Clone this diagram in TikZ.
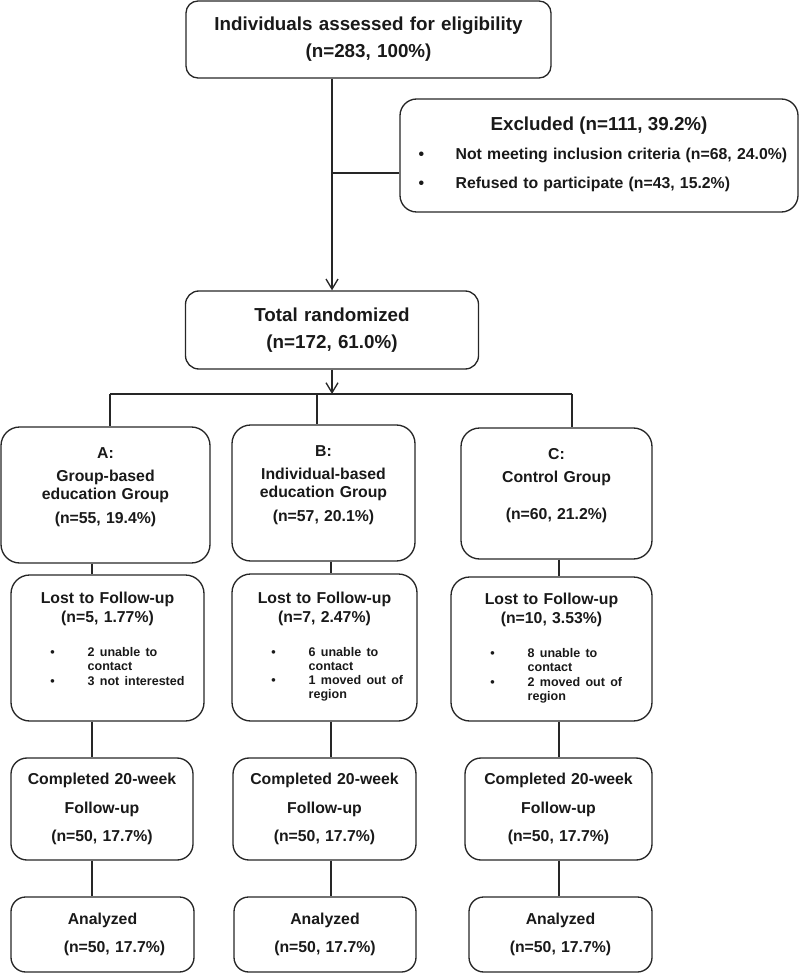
\documentclass[tikz,border=0pt]{standalone}
\usepackage{fontspec}
\setmainfont{Liberation Sans}
\usetikzlibrary{arrows.meta}

\begin{document}
\begin{tikzpicture}[x=0.75pt,y=-0.75pt,line width=1pt,color=black!85,
    box/.style={draw,align=center,inner xsep=0pt,inner ysep=0pt,text=black!90},
    bigtxt/.style={font=\fontsize{14.1}{20.25}\selectfont\bfseries},
    midtxt/.style={font=\fontsize{11.85}{13.5}\selectfont\bfseries},
    grp/.style={box,midtxt,rounded corners=14pt,minimum height=102pt},
    lost/.style={box,midtxt,rounded corners=14pt},
    comp/.style={box,rounded corners=12pt,minimum height=76.5pt,font=\fontsize{11.85}{21.4}\selectfont\bfseries},
    ana/.style={box,rounded corners=11pt,minimum height=56.25pt,font=\fontsize{11.85}{21}\selectfont\bfseries},
    arr/.style={-{Straight Barb[length=7.5pt,width=9pt]}}]
    \useasboundingbox (0,0) rectangle (800,973);

    % enrolment
    \node[box,bigtxt,rounded corners=9pt,text width=273.75pt,minimum height=57.75pt] (elig) at (368.5,39.5)
        {Individuals assessed for eligibility\\(n=283, 100\%)};
    \node[box,midtxt,rounded corners=12.5pt,text width=298.5pt,minimum height=84.75pt] (excl) at (599,155.5)
        {{\fontsize{14.1}{16}\selectfont Excluded (n=111, 39.2\%)}\\[8.25pt]
        \begin{tabular}[t]{@{\hspace{13.5pt}}p{27.75pt}@{}p{256.25pt}@{}}
            \textbullet & Not meeting inclusion criteria (n=68, 24.0\%)\\[7.8pt]
            \textbullet & Refused to participate (n=43, 15.2\%)
        \end{tabular}};
    \node[box,bigtxt,rounded corners=10pt,text width=219.75pt,minimum height=58.5pt] (rand) at (332,330)
        {Total randomized\\(n=172, 61.0\%)};

    % allocation
    \node[grp,text width=156.75pt] (grpA) at (105.5,495)
        {A:\\[3.75pt]Group-based\\education Group\\[4.5pt](n=55, 19.4\%)\par\vspace*{11.25pt}};
    \node[grp,text width=137.25pt] (grpB) at (323.5,493)
        {B:\\[3.75pt]Individual-based\\education Group\\[4.5pt](n=57, 20.1\%)\par\vspace*{11.25pt}};
    \node[grp,text width=143.25pt,minimum height=98.25pt] (grpC) at (556.5,493.5)
        {C:\\[3.75pt]Control Group\\[14.25pt](n=60, 21.2\%)\par\vspace*{11.25pt}};

    % follow-up
    \node[lost,text width=144.75pt,minimum height=109.5pt] (lostA) at (107.5,648)
        {Lost to Follow-up\\[0.75pt](n=5, 1.77\%)\hspace*{24pt}\\[12pt]
        {\fontsize{9.4}{10.7}\selectfont
        \begin{tabular}[t]{@{\hspace{29pt}}p{28pt}@{}p{86.75pt}@{}}
            \textbullet & 2 unable to\newline contact\\
            \textbullet & 3 not interested
        \end{tabular}}\par\vspace*{10.7pt}};
    \node[lost,text width=138.75pt,minimum height=110.25pt] (lostB) at (324.5,647.5)
        {Lost to Follow-up\\[0.75pt](n=7, 2.47\%)\\[12pt]
        {\fontsize{9.4}{10.7}\selectfont
        \begin{tabular}[t]{@{\hspace{29pt}}p{28pt}@{}p{80.75pt}@{}}
            \textbullet & 6 unable to\newline contact\\
            \textbullet & 1 moved out of\newline region
        \end{tabular}}};
    \node[lost,text width=150.75pt,minimum height=108pt] (lostC) at (551.5,649)
        {Lost to Follow-up\\[0.75pt](n=10, 3.53\%)\\[12pt]
        {\fontsize{9.4}{10.7}\selectfont
        \begin{tabular}[t]{@{\hspace{29pt}}p{28pt}@{}p{92.75pt}@{}}
            \textbullet & 8 unable to\newline contact\\
            \textbullet & 2 moved out of\newline region
        \end{tabular}}};

    \node[comp,text width=136.5pt] (compA) at (102,809) {Completed 20-week\\Follow-up\\(n=50, 17.7\%)};
    \node[comp,text width=137.25pt] (compB) at (324.5,809) {Completed 20-week\\Follow-up\\(n=50, 17.7\%)};
    \node[comp,text width=140.25pt] (compC) at (558.5,809) {Completed 20-week\\Follow-up\\(n=50, 17.7\%)};

    % analysis
    \node[ana,text width=137.25pt] (anaA) at (102.5,934.5) {Analyzed\\\hspace*{18pt}(n=50, 17.7\%)};
    \node[ana,text width=136.5pt] (anaB) at (325,934.5) {Analyzed\\(n=50, 17.7\%)};
    \node[ana,text width=137.25pt] (anaC) at (560.5,934.5) {Analyzed\\(n=50, 17.7\%)};

    % connectors
    \coordinate (excljoin) at (332,173);
    \coordinate (fork) at (332,394);
    \coordinate (forkA) at (110,394);
    \coordinate (forkB) at (317,394);
    \coordinate (forkC) at (572,394);
    \coordinate (colA) at (92,0);
    \coordinate (colB) at (331,0);
    \coordinate (colC) at (559,0);

    \draw[arr] (elig.south -| rand.north) -- (rand.north);
    \draw (excljoin) -- (excljoin -| excl.west);
    \draw[arr] (rand.south) -- (fork);
    \draw (forkA) -- (forkC);
    \draw (forkA) -- (forkA |- grpA.north);
    \draw (forkB) -- (forkB |- grpB.north);
    \draw (forkC) -- (forkC |- grpC.north);
    \foreach \g in {A,B,C} {
        \draw (grp\g.south -| col\g) -- (lost\g.north -| col\g);
        \draw (lost\g.south -| col\g) -- (comp\g.north -| col\g);
        \draw (comp\g.south -| col\g) -- (ana\g.north -| col\g);
    }
\end{tikzpicture}
\end{document}
